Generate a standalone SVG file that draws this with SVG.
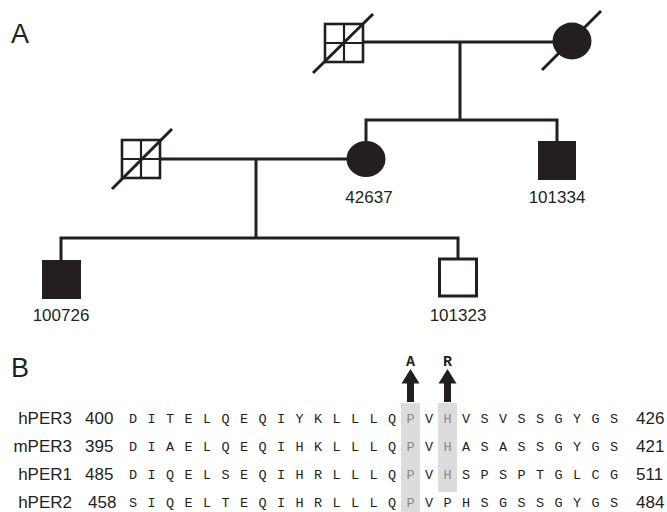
<svg xmlns="http://www.w3.org/2000/svg" width="667" height="512" viewBox="0 0 667 512">
<style>
.ln{stroke:#231f20;stroke-width:3;fill:none;stroke-linecap:butt}
.gl{stroke:#231f20;stroke-width:2.6;fill:#fff}
.gx{stroke:#231f20;stroke-width:2.2;fill:none}
.dg{stroke:#231f20;stroke-width:3;fill:none}
.fill{fill:#231f20}
.open{fill:#fff;stroke:#231f20;stroke-width:3}
.id{font-family:"Liberation Sans",Arial,sans-serif;font-size:17px;fill:#231f20;text-anchor:middle}
.panel{font-family:"Liberation Sans",Arial,sans-serif;font-size:27px;fill:#231f20}
.lab{font-family:"Liberation Sans",Arial,sans-serif;font-size:17px;fill:#231f20}
.seq{font-family:"Liberation Mono","Courier New",monospace;font-size:13.5px;fill:#231f20;text-anchor:middle}
.g{fill:#8a8a8a}
.mut{font-family:"Liberation Mono","Courier New",monospace;font-size:15px;font-weight:bold;fill:#231f20;text-anchor:middle}
.hl{fill:#dcdcdc}
</style>
<rect width="667" height="512" fill="#fff"/>
<text class="panel" x="11" y="43">A</text>
<text class="panel" x="11" y="377">B</text>

<g id="connectors">
<line class="ln" x1="363" y1="42" x2="553" y2="42"/>
<line class="ln" x1="460" y1="42" x2="460" y2="120"/>
<polyline class="ln" points="366,141 366,120 557,120 557,141"/>
<line class="ln" x1="160" y1="159" x2="347" y2="159"/>
<line class="ln" x1="256" y1="159" x2="256" y2="238"/>
<polyline class="ln" points="61,260 61,238 458,238 458,258"/>
</g>

<g id="grandfather">
<rect class="gl" x="325" y="24" width="38" height="38"/>
<line class="gx" x1="344" y1="24" x2="344" y2="62"/>
<line class="gx" x1="325" y1="43" x2="363" y2="43"/>
<line class="dg" x1="313" y1="73" x2="373" y2="14"/>
</g>

<g id="grandmother">
<ellipse class="fill" cx="572" cy="41" rx="19.5" ry="18.5"/>
<line class="dg" x1="542" y1="70" x2="601" y2="11"/>
</g>

<g id="husband">
<rect class="gl" x="122" y="140" width="38" height="38"/>
<line class="gx" x1="141" y1="140" x2="141" y2="178"/>
<line class="gx" x1="122" y1="159" x2="160" y2="159"/>
<line class="dg" x1="112" y1="189" x2="172" y2="129"/>
</g>

<g id="n42637">
<ellipse class="fill" cx="366" cy="159" rx="19.5" ry="18"/>
<text class="id" x="369" y="203">42637</text>
</g>

<g id="n101334">
<rect class="fill" x="538" y="141" width="38" height="39"/>
<text class="id" x="557" y="203">101334</text>
</g>

<g id="n100726">
<rect class="fill" x="42" y="260" width="39" height="39"/>
<text class="id" x="61" y="321">100726</text>
</g>

<g id="n101323">
<rect class="open" x="439.5" y="259" width="37" height="37"/>
<text class="id" x="458" y="321">101323</text>
</g>

<g id="alignment">
<rect class="hl" x="401" y="403" width="19" height="109"/>
<rect class="hl" x="438" y="403" width="19" height="89"/>
<g id="arrowA">
<rect class="fill" x="407" y="382" width="7" height="20"/>
<polygon class="fill" points="401.5,383.5 419.5,383.5 410.5,369"/>
<text class="mut" x="410.5" y="366">A</text>
</g>
<g id="arrowR">
<rect class="fill" x="444" y="382" width="7" height="20"/>
<polygon class="fill" points="438.5,383.5 456.5,383.5 447.5,369"/>
<text class="mut" x="447.5" y="366">R</text>
</g>

<text class="lab" x="72" y="424" text-anchor="end">hPER3</text>
<text class="lab" x="85" y="424">400</text>
<text class="seq" y="422.5" x="133 151.5 170 188.5 207 225.5 244 262.5 281 299.5 318 336.5 355 373.5 392 410.5 429 447.5 466 484.5 503 521.5 540 558.5 577 595.5 614">DITELQEQIYKLLLQ<tspan class="g">P</tspan>V<tspan class="g">H</tspan>VSVSSGYGS</text>
<text class="lab" x="636" y="424">426</text>

<text class="lab" x="72" y="452" text-anchor="end">mPER3</text>
<text class="lab" x="85" y="452">395</text>
<text class="seq" y="450.5" x="133 151.5 170 188.5 207 225.5 244 262.5 281 299.5 318 336.5 355 373.5 392 410.5 429 447.5 466 484.5 503 521.5 540 558.5 577 595.5 614">DIAELQEQIHKLLLQ<tspan class="g">P</tspan>V<tspan class="g">H</tspan>ASASSGYGS</text>
<text class="lab" x="636" y="452">421</text>

<text class="lab" x="72" y="480" text-anchor="end">hPER1</text>
<text class="lab" x="85" y="480">485</text>
<text class="seq" y="478.5" x="133 151.5 170 188.5 207 225.5 244 262.5 281 299.5 318 336.5 355 373.5 392 410.5 429 447.5 466 484.5 503 521.5 540 558.5 577 595.5 614">DIQELSEQIHRLLLQ<tspan class="g">P</tspan>V<tspan class="g">H</tspan>SPSPTGLCG</text>
<text class="lab" x="636" y="480">511</text>

<text class="lab" x="72" y="508" text-anchor="end">hPER2</text>
<text class="lab" x="88" y="508">458</text>
<text class="seq" y="506.5" x="133 151.5 170 188.5 207 225.5 244 262.5 281 299.5 318 336.5 355 373.5 392 410.5 429 447.5 466 484.5 503 521.5 540 558.5 577 595.5 614">SIQELTEQIHRLLLQ<tspan class="g">P</tspan>VPHSGSSGYGS</text>
<text class="lab" x="636" y="508">484</text>
</g>
</svg>
